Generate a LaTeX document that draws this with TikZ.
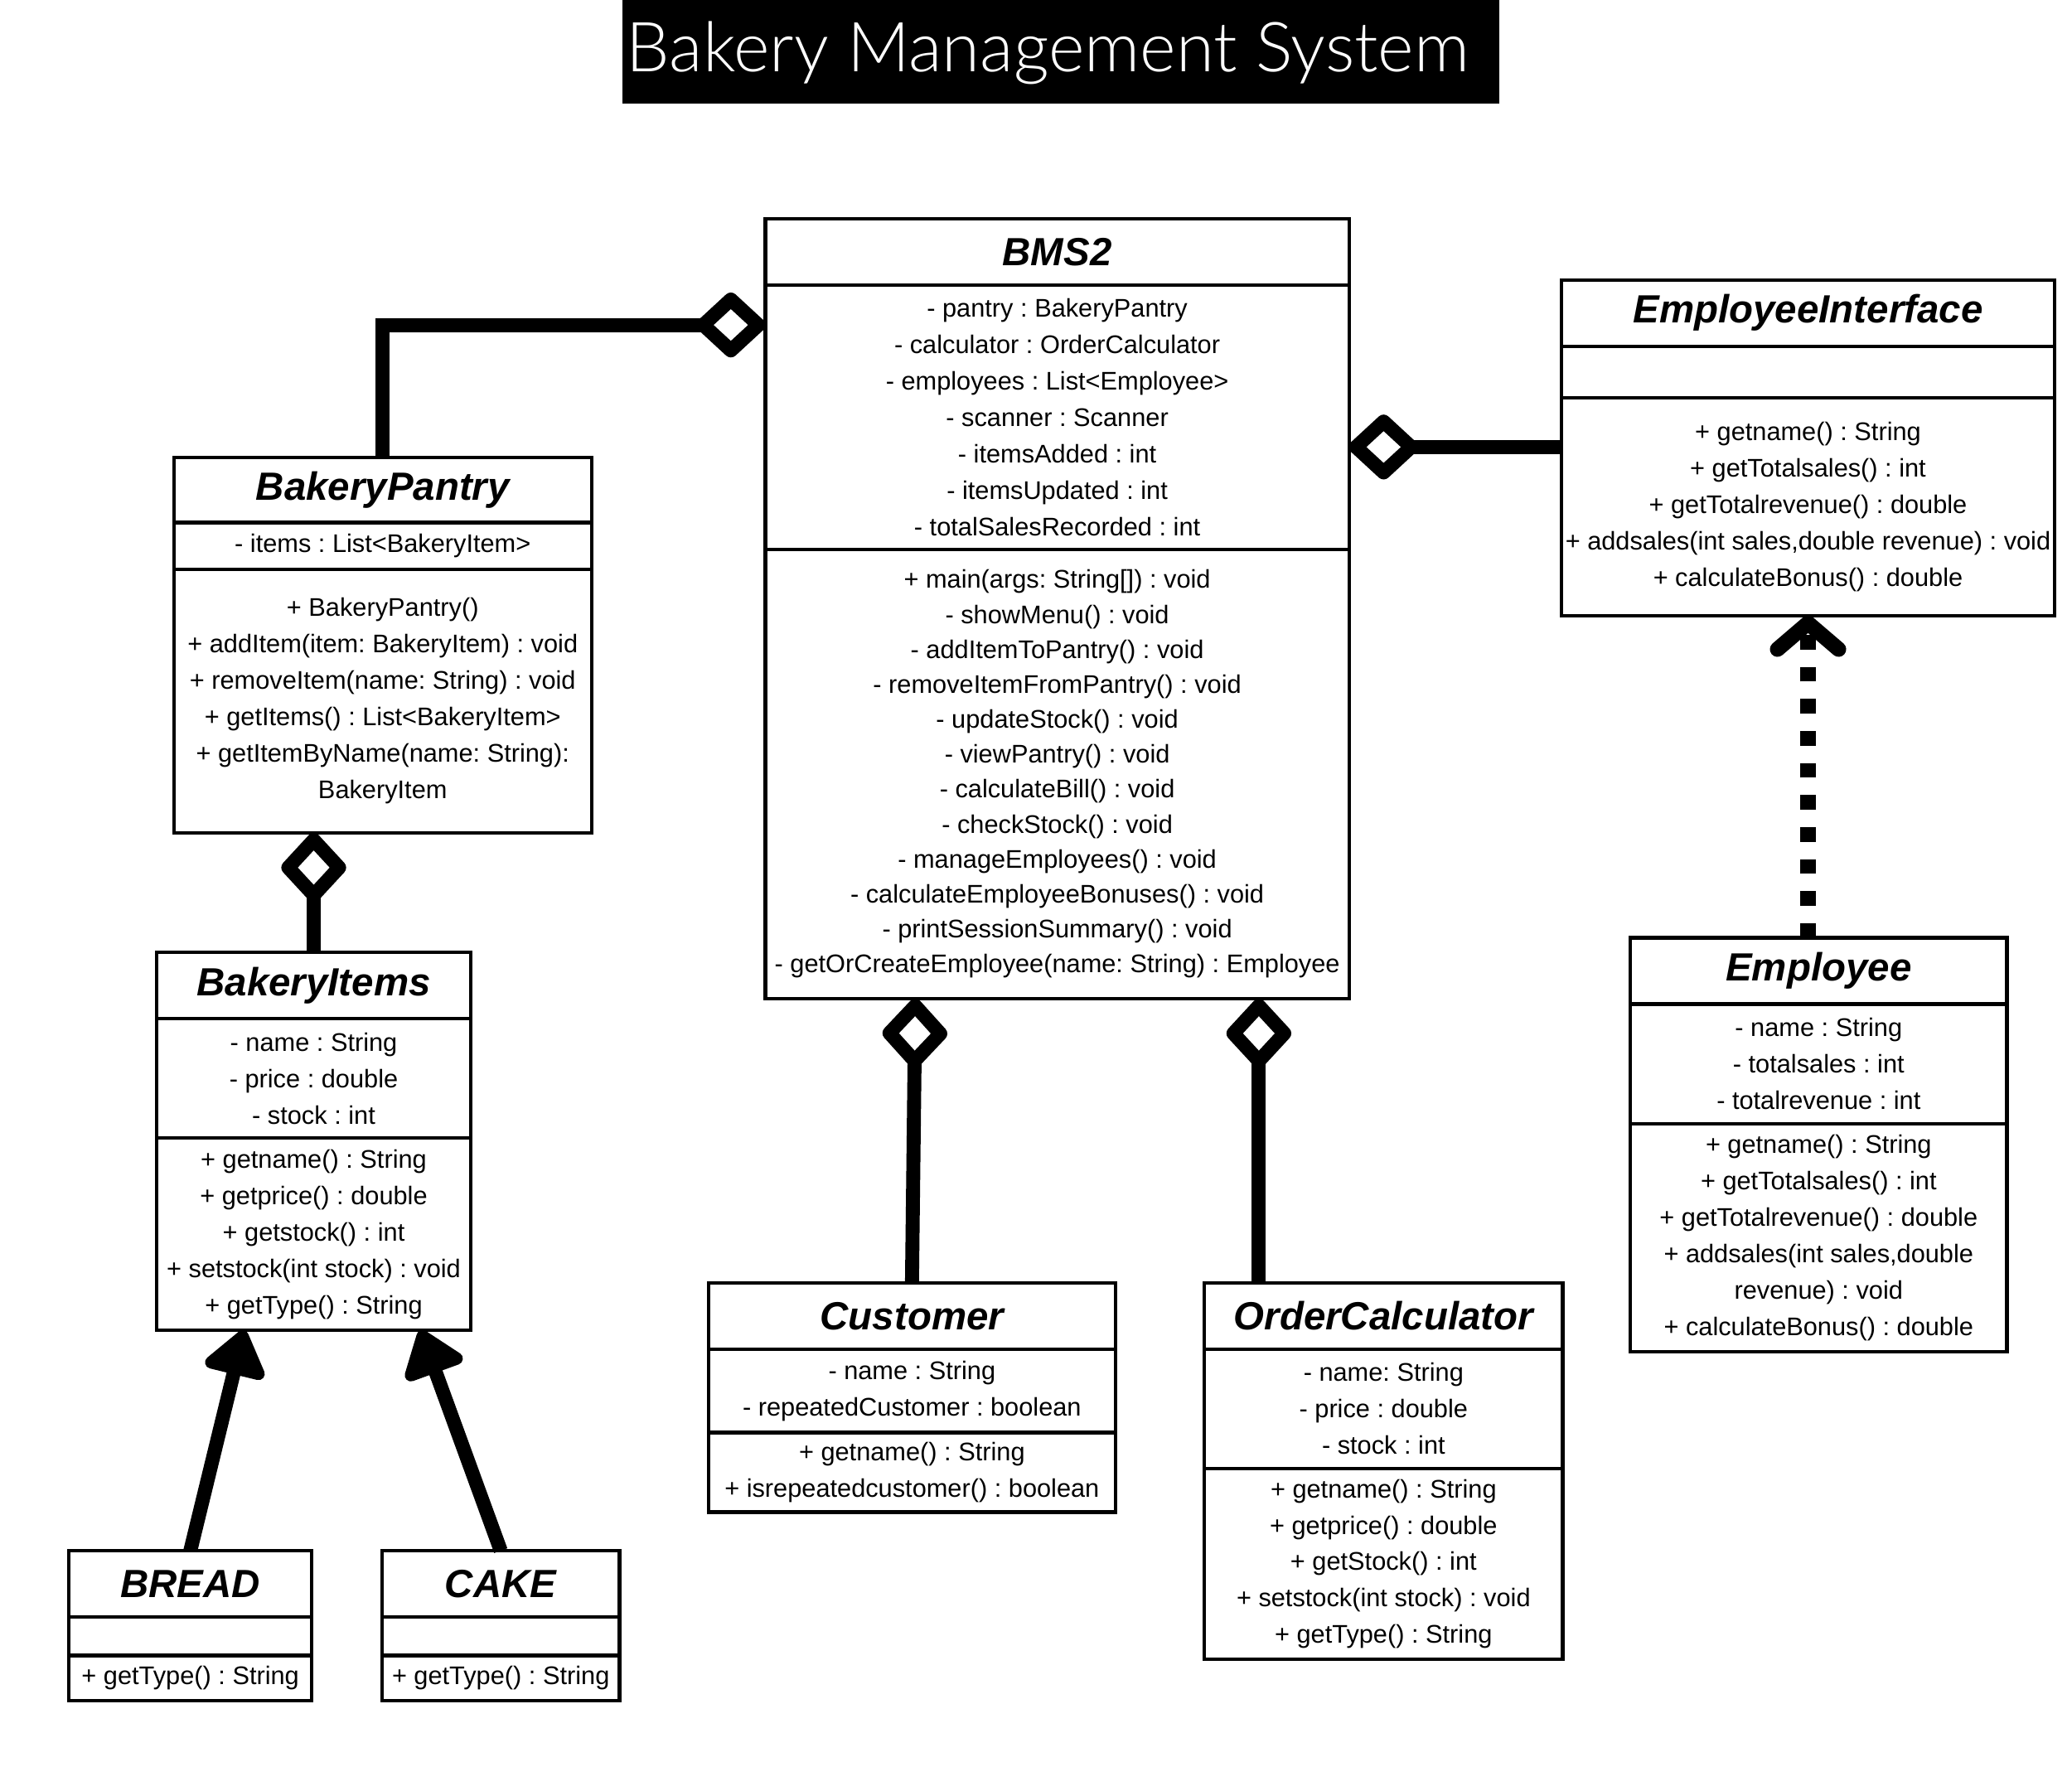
\documentclass[tikz,border=0pt]{standalone}
\usepackage{fontspec}
\setmainfont{Liberation Sans}
\newfontfamily\ttlfont{Lato Light}
\usepackage{tikz}
\usetikzlibrary{positioning}
\usetikzlibrary{arrows.meta}
\newlength\ux
\setlength\ux{0.016cm}
\frenchspacing
\tikzset{
    clshead/.style = {draw=black, line width=1.2pt, inner sep=0pt, outer sep=0pt, font=\fontsize{13.5}{16}\selectfont\bfseries\itshape},
    clsbody/.style = {draw=black, line width=1.2pt, inner sep=0pt, outer sep=0pt, align=center, font=\fontsize{8.75}{12.5}\selectfont},
    ttlbox/.style = {fill=black, inner sep=0pt, outer sep=0pt},
    ttltext/.style = {text=white, inner sep=0pt, font=\ttlfont\fontsize{23.7}{27}\selectfont},
}

\begin{document}
\begin{tikzpicture}[x=0.016cm, y=-0.016cm]
\tikzset{
    edgeagg/.style = {line width=4.8pt, -{Diamond[open, round, length=26pt, width=24pt]}},
    edgegen/.style = {line width=4.8pt, -{Triangle[round, length=17pt, width=24pt]}},
    edgereal/.style = {line width=5.2pt, dash pattern=on 5pt off 6pt, -{Straight Barb[round, length=9pt, width=21pt]}}
}
\useasboundingbox (0,0) rectangle (1562,1350);
% title
\node[ttlbox, minimum width=661\ux, minimum height=78\ux, anchor=north west] (ttlbg) at (469,0) {};
\node[ttltext] (ttl) at (790,40) {Bakery Management System};
%
\node[clshead, minimum width=440\ux, minimum height=50\ux, anchor=north west] (bms) at (577,165) {BMS2};
\node[clsbody, below=0pt of bms, minimum width=440\ux, minimum height=199\ux] (bmsA) {- pantry : BakeryPantry\\- calculator : OrderCalculator\\- employees : List<Employee>\\- scanner : Scanner\\- itemsAdded : int\\- itemsUpdated : int\\- totalSalesRecorded : int};
\node[clsbody, font=\fontsize{8.75}{12}\selectfont, below=0pt of bmsA, minimum width=440\ux, minimum height=339\ux] (bmsM) {+ main(args: String[]) : void\\- showMenu() : void\\- addItemToPantry() : void\\- removeItemFromPantry() : void\\- updateStock() : void\\- viewPantry() : void\\- calculateBill() : void\\- checkStock() : void\\- manageEmployees() : void\\- calculateEmployeeBonuses() : void\\- printSessionSummary() : void\\- getOrCreateEmployee(name: String) : Employee};
%
\node[clshead, minimum width=315\ux, minimum height=49\ux, anchor=north west] (pantry) at (131,345) {BakeryPantry};
\node[clsbody, below=0pt of pantry, minimum width=315\ux, minimum height=35\ux] (pantryA) {- items : List<BakeryItem>};
\node[clsbody, below=0pt of pantryA, minimum width=315\ux, minimum height=199\ux] (pantryM) {+ BakeryPantry()\\+ addItem(item: BakeryItem) : void\\+ removeItem(name: String) : void\\+ getItems() : List<BakeryItem>\\+ getItemByName(name: String):\\BakeryItem};
%
\node[clshead, minimum width=237\ux, minimum height=50\ux, anchor=north west] (items) at (118,718) {BakeryItems};
\node[clsbody, below=0pt of items, minimum width=237\ux, minimum height=90\ux] (itemsA) {- name : String\\- price : double\\- stock : int};
\node[clsbody, below=0pt of itemsA, minimum width=237\ux, minimum height=145\ux] (itemsM) {+ getname() : String\\+ getprice() : double\\+ getstock() : int\\+ setstock(int stock) : void\\+ getType() : String};
%
\node[clshead, minimum width=183\ux, minimum height=50\ux, anchor=north west] (bread) at (52,1169) {BREAD};
\node[clsbody, below=0pt of bread, minimum width=183\ux, minimum height=29\ux] (breadA) {};
\node[clsbody, below=0pt of breadA, minimum width=183\ux, minimum height=34\ux] (breadM) {+ getType() : String};
%
\node[clshead, minimum width=179\ux, minimum height=50\ux, anchor=north west] (cake) at (288,1169) {CAKE};
\node[clsbody, below=0pt of cake, minimum width=179\ux, minimum height=29\ux] (cakeA) {};
\node[clsbody, below=0pt of cakeA, minimum width=179\ux, minimum height=34\ux] (cakeM) {+ getType() : String};
%
\node[clshead, minimum width=307\ux, minimum height=50\ux, anchor=north west] (cust) at (534,967) {Customer};
\node[clsbody, below=0pt of cust, minimum width=307\ux, minimum height=63\ux] (custA) {- name : String\\- repeatedCustomer : boolean};
\node[clsbody, below=0pt of custA, minimum width=307\ux, minimum height=60\ux] (custM) {+ getname() : String\\+ isrepeatedcustomer() : boolean};
%
\node[clshead, minimum width=270\ux, minimum height=50\ux, anchor=north west] (oc) at (908,967) {OrderCalculator};
\node[clsbody, below=0pt of oc, minimum width=270\ux, minimum height=90\ux] (ocA) {- name: String\\- price : double\\- stock : int};
\node[clsbody, below=0pt of ocA, minimum width=270\ux, minimum height=144\ux] (ocM) {+ getname() : String\\+ getprice() : double\\+ getStock() : int\\+ setstock(int stock) : void\\+ getType() : String};
%
\node[clshead, minimum width=372\ux, minimum height=50\ux, anchor=north west] (ei) at (1177,211) {EmployeeInterface};
\node[clsbody, below=0pt of ei, minimum width=372\ux, minimum height=39\ux] (eiA) {};
\node[clsbody, below=0pt of eiA, minimum width=372\ux, minimum height=164\ux] (eiM) {+ getname() : String\\+ getTotalsales() : int\\+ getTotalrevenue() : double\\+ addsales(int sales,double revenue) : void\\+ calculateBonus() : double};
%
\node[clshead, minimum width=284\ux, minimum height=50\ux, anchor=north west] (emp) at (1229,707) {Employee};
\node[clsbody, below=0pt of emp, minimum width=284\ux, minimum height=90\ux] (empA) {- name : String\\- totalsales : int\\- totalrevenue : int};
\node[clsbody, below=0pt of empA, minimum width=284\ux, minimum height=172\ux] (empM) {+ getname() : String\\+ getTotalsales() : int\\+ getTotalrevenue() : double\\+ addsales(int sales,double\\revenue) : void\\+ calculateBonus() : double};
%
\coordinate (bmsL) at (577,245);
\coordinate (bmsR) at (1017,337);
\coordinate (bmsB1) at (690,753);
\coordinate (bmsB2) at (949,753);
\coordinate (itemsB1) at (184,1003);
\coordinate (itemsB2) at (317,1003);
%
\draw[edgeagg] (pantry.north) |- (bmsL);
\draw[edgeagg] (eiM.west |- bmsR) -- (bmsR);
\draw[edgeagg] (items.north) -- (items.north |- pantryM.south);
\draw[edgeagg] (cust.north) -- (bmsB1);
\draw[edgeagg] (bmsB2 |- oc.north) -- (bmsB2);
%
\draw[edgegen] (bread.north) -- (itemsB1);
\draw[edgegen] (cake.north) -- (itemsB2);
\draw[edgereal] (eiM.south |- emp.north) -- (eiM.south);
\end{tikzpicture}
\end{document}
